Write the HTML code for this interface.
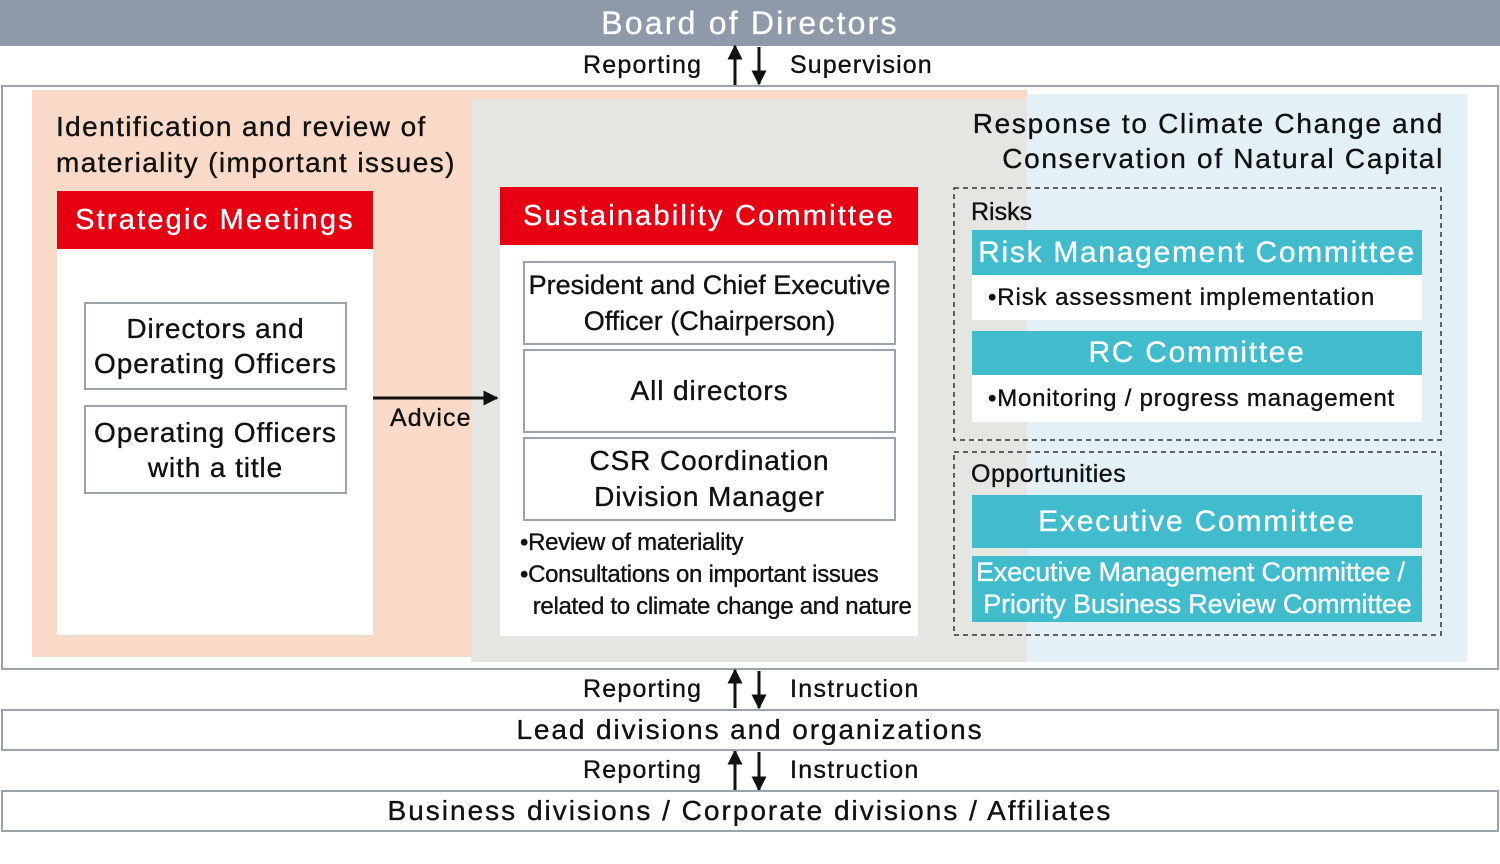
<!DOCTYPE html>
<html><head><meta charset="utf-8"><style>
*{margin:0;padding:0;box-sizing:border-box}
body{width:1500px;height:864px;background:#fff;position:relative;font-family:"Liberation Sans",sans-serif;color:#111;overflow:hidden;-webkit-text-stroke:0.35px currentColor}
.a{position:absolute}
.c{display:flex;align-items:center;justify-content:center;text-align:center}
.red{background:#e60012;color:#fff}
.teal{background:#40bccc;color:#fff}
.bx{background:#fff;border:2px solid #9aa3ae}
.t{white-space:nowrap;line-height:1}
</style></head><body>
<div class="a c" style="left:0;top:0;width:1500px;height:46px;background:#8e9aaa;color:#fff;font-size:32px;letter-spacing:2.2px">Board of Directors</div>
<div class="a" style="left:1px;top:85px;width:1498px;height:585px;border:2px solid #9aa3ae"></div>
<div class="a" style="left:32px;top:90px;width:995px;height:567px;background:#f9d9c8"></div>
<div class="a" style="left:1027px;top:94px;width:440px;height:568px;background:#e3f1f6"></div>
<div class="a" style="left:471px;top:99px;width:556px;height:563px;background:#e5e5e1"></div>

<div class="a t" style="left:583px;top:53px;font-size:25px;letter-spacing:1.2px">Reporting</div>
<div class="a t" style="left:790px;top:53px;font-size:25px;letter-spacing:1.1px">Supervision</div>
<svg class="a" style="left:0;top:0" width="1500" height="864">
<defs><marker id="m" viewBox="0 0 10 10" refX="9" refY="5" markerWidth="5" markerHeight="5" orient="auto" markerUnits="strokeWidth"><path d="M0,0L10,5L0,10z" fill="#111"/></marker></defs>
<g stroke="#111" stroke-width="3" fill="none" marker-end="url(#m)">
<line x1="735" y1="85" x2="735" y2="46"/><line x1="759" y1="47" x2="759" y2="84"/>
<line x1="735" y1="708" x2="735" y2="670"/><line x1="759" y1="671" x2="759" y2="708"/>
<line x1="735" y1="790" x2="735" y2="751"/><line x1="759" y1="752" x2="759" y2="790"/>
<line x1="373" y1="398" x2="497" y2="398"/>
</g>
<g fill="none" stroke="#333" stroke-width="1.5" stroke-dasharray="5,4">
<rect x="954" y="188" width="487" height="252"/><rect x="954" y="452" width="487" height="183"/>
</g>
</svg>

<div class="a t" style="left:56px;top:109px;font-size:28px;line-height:36px;letter-spacing:1.4px">Identification and review of<br>materiality (important issues)</div>
<div class="a c red" style="left:57px;top:191px;width:316px;height:58px;font-size:29px;letter-spacing:2.2px">Strategic Meetings</div>
<div class="a" style="left:57px;top:249px;width:316px;height:386px;background:#fff"></div>
<div class="a c bx" style="left:84px;top:302px;width:263px;height:88px;font-size:28px;line-height:35px;letter-spacing:0.9px">Directors and<br>Operating Officers</div>
<div class="a c bx" style="left:84px;top:405px;width:263px;height:89px;font-size:28px;line-height:35px;letter-spacing:0.9px">Operating Officers<br>with a title</div>
<div class="a t" style="left:390px;top:406px;font-size:25px;letter-spacing:1.1px">Advice</div>

<div class="a c red" style="left:500px;top:187px;width:418px;height:58px;font-size:29px;letter-spacing:2.2px">Sustainability Committee</div>
<div class="a" style="left:500px;top:245px;width:418px;height:391px;background:#fff"></div>
<div class="a c bx" style="left:523px;top:261px;width:373px;height:84px;font-size:27px;line-height:36px">President and Chief Executive<br>Officer (Chairperson)</div>
<div class="a c bx" style="left:523px;top:349px;width:373px;height:84px;font-size:28px;letter-spacing:0.9px">All directors</div>
<div class="a c bx" style="left:523px;top:437px;width:373px;height:84px;font-size:28px;line-height:36px;letter-spacing:0.9px">CSR Coordination<br>Division Manager</div>
<div class="a t" style="left:520px;top:527px;font-size:24px;line-height:32px;letter-spacing:-0.3px;white-space:pre">•Review of materiality
•Consultations on important issues
  related to climate change and nature</div>

<div class="a t" style="right:56px;top:106px;font-size:28px;line-height:35px;text-align:right;letter-spacing:1.7px">Response to Climate Change and<br>Conservation of Natural Capital</div>
<div class="a t" style="left:971px;top:200px;font-size:25px">Risks</div>
<div class="a c teal" style="left:972px;top:230px;width:450px;height:45px;font-size:30px;letter-spacing:1.7px">Risk Management Committee</div>
<div class="a" style="left:972px;top:275px;width:450px;height:45px;background:#fff;font-size:24px;line-height:45px;padding-left:16px;letter-spacing:0.9px;white-space:nowrap">•Risk assessment implementation</div>
<div class="a c teal" style="left:972px;top:331px;width:450px;height:44px;font-size:30px;letter-spacing:1.7px">RC Committee</div>
<div class="a" style="left:972px;top:375px;width:450px;height:47px;background:#fff;font-size:24px;line-height:47px;padding-left:16px;letter-spacing:0.8px;white-space:nowrap">•Monitoring / progress management</div>
<div class="a t" style="left:971px;top:462px;font-size:25px;letter-spacing:0.5px">Opportunities</div>
<div class="a c teal" style="left:972px;top:495px;width:450px;height:53px;font-size:30px;letter-spacing:1.8px">Executive Committee</div>
<div class="a teal" style="left:972px;top:556px;width:450px;height:66px;font-size:27px;line-height:32px;padding-left:4px;white-space:nowrap;letter-spacing:-0.2px;overflow:hidden">Executive Management Committee /<br>&nbsp;Priority Business Review Committee</div>

<div class="a t" style="left:583px;top:677px;font-size:25px;letter-spacing:1.2px">Reporting</div>
<div class="a t" style="left:790px;top:677px;font-size:25px;letter-spacing:1.3px">Instruction</div>
<div class="a c" style="left:1px;top:709px;width:1498px;height:42px;border:2px solid #9aa3ae;font-size:28px;letter-spacing:1.9px">Lead divisions and organizations</div>
<div class="a t" style="left:583px;top:758px;font-size:25px;letter-spacing:1.2px">Reporting</div>
<div class="a t" style="left:790px;top:758px;font-size:25px;letter-spacing:1.3px">Instruction</div>
<div class="a c" style="left:1px;top:790px;width:1498px;height:42px;border:2px solid #9aa3ae;font-size:28px;letter-spacing:2px">Business divisions / Corporate divisions / Affiliates</div>
</body></html>
